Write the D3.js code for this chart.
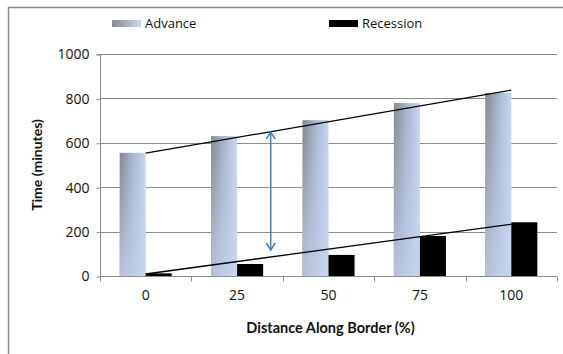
<!DOCTYPE html>
<html><head><meta charset="utf-8">
<script src="https://cdn.jsdelivr.net/npm/d3@7"></script>
<style>html,body{margin:0;padding:0;background:#fff;}svg{display:block;}</style>
</head><body>
<svg id="c" width="563" height="354"></svg>
<script>
const categories = ["0","25","50","75","100"];
const seriesNames = ["Advance","Recession"];
const advance = [555, 630, 702, 779, 825];
const recession = [12, 54, 95, 180, 242];
const yTicks = [0, 200, 400, 600, 800, 1000];
const advanceTrend = [[0, 553], [100, 837]];
const recessionTrend = [[0, 9], [100, 233]];
const arrowSpan = [[34.2, 648], [34.2, 117]];

const svg = d3.select("#c");
const W = 563, H = 354;
const m = {l:100, r:6, t:54, b:78};
const x0 = d3.scaleBand().domain(categories).range([m.l, W - m.r]).padding(0);
const bw = x0.bandwidth();
const x1 = d3.scaleBand().domain(seriesNames).range([bw*0.215, bw*0.785]).padding(0);
const y = d3.scaleLinear().domain([0, 1000]).range([H - m.b, m.t]);
const xNum = d3.scaleLinear().domain([0, 100]).range([x0("0") + bw/2, x0("100") + bw/2]);

const defs = svg.append("defs");
const g1 = defs.append("linearGradient").attr("id","advH").attr("x1",0).attr("y1",0).attr("x2",1).attr("y2",0);
g1.append("stop").attr("offset",0).attr("stop-color","#86898f");
g1.append("stop").attr("offset",0.5).attr("stop-color","#a8b5cc");
g1.append("stop").attr("offset",1).attr("stop-color","#c8d7f2");
const g2 = defs.append("linearGradient").attr("id","advV").attr("x1",0).attr("y1",0).attr("x2",0).attr("y2",1);
g2.append("stop").attr("offset",0).attr("stop-color","#c6d4ee").attr("stop-opacity",0);
g2.append("stop").attr("offset",1).attr("stop-color","#c6d4ee").attr("stop-opacity",0.75);
const g3 = defs.append("linearGradient").attr("id","legH").attr("x1",0).attr("y1",0).attr("x2",1).attr("y2",0);
g3.append("stop").attr("offset",0).attr("stop-color","#86898f");
g3.append("stop").attr("offset",1).attr("stop-color","#cad8f1");

// outer border
svg.append("rect").attr("x",8.5).attr("y",7.5).attr("width",W+10).attr("height",H+10)
  .attr("fill","none").attr("stroke","#8c8c8c").attr("stroke-width",1.5);

// gridlines
svg.append("g").selectAll("line").data(yTicks.filter(d=>d>0)).join("line")
  .attr("x1", m.l).attr("x2", W - m.r)
  .attr("y1", d=>Math.round(y(d))+0.5).attr("y2", d=>Math.round(y(d))+0.5)
  .attr("stroke","#8c8c8c").attr("stroke-width",1);

// y axis
const yAxis = d3.axisLeft(y).tickValues(yTicks).tickSize(4).tickPadding(7).tickFormat(d3.format("d"));
const ya = svg.append("g").attr("transform",`translate(${m.l+0.5},0.5)`).call(yAxis);
ya.select(".domain").attr("stroke","#8c8c8c").attr("d", `M-4,${y(1000)}H0V${y(0)+4}`);
ya.selectAll(".tick line").attr("stroke","#8c8c8c");
ya.selectAll("text").attr("font-family","'Open Sans', sans-serif").attr("font-size",14).attr("fill","#111");

// bars
const bars = svg.append("g");
categories.forEach((c,i)=>{
  const xa = x0(c) + x1("Advance");
  const h = y(0) - y(advance[i]);
  bars.append("rect").attr("x", xa).attr("y", y(advance[i])).attr("width", x1.bandwidth()).attr("height", h).attr("fill","url(#advH)");
  bars.append("rect").attr("x", xa).attr("y", y(advance[i])).attr("width", x1.bandwidth()).attr("height", h).attr("fill","url(#advV)");
  bars.append("rect").attr("x", x0(c) + x1("Recession")).attr("y", y(recession[i])).attr("width", x1.bandwidth())
    .attr("height", y(0) - y(recession[i])).attr("fill","#000");
});

// x axis
const xAxis = d3.axisBottom(x0).tickSize(0).tickPadding(14);
const xa = svg.append("g").attr("transform",`translate(0,${Math.round(y(0))+0.5})`).call(xAxis);
xa.select(".domain").attr("stroke","#8c8c8c").attr("d", `M${m.l},0H${W-m.r}`);
xa.selectAll("text").attr("font-family","'Open Sans', sans-serif").attr("font-size",14).attr("fill","#111");
const bounds = categories.map(c=>x0(c)).concat([x0("100")+bw]);
xa.append("g").selectAll("line").data(bounds).join("line")
  .attr("x1", d=>Math.round(d)+0.5).attr("x2", d=>Math.round(d)+0.5).attr("y1",0).attr("y2",5)
  .attr("stroke","#8c8c8c");

// trend lines
const line = d3.line().x(d=>xNum(d[0])).y(d=>y(d[1]));
[advanceTrend, recessionTrend].forEach(t=>{
  svg.append("path").attr("d", line(t)).attr("fill","none").attr("stroke","#000").attr("stroke-width",1.3);
});

// double arrow
const ax = xNum(arrowSpan[0][0]);
const ay1 = y(arrowSpan[0][1]), ay2 = y(arrowSpan[1][1]);
const blue = "#4a7dbc";
svg.append("line").attr("x1",ax).attr("x2",ax).attr("y1",ay1).attr("y2",ay2).attr("stroke",blue).attr("stroke-width",1.5);
svg.append("path").attr("d",`M${ax-4.5},${ay1+7}L${ax},${ay1}L${ax+4.5},${ay1+7}`).attr("fill","none").attr("stroke",blue).attr("stroke-width",1.5);
svg.append("path").attr("d",`M${ax-4.5},${ay2-7}L${ax},${ay2}L${ax+4.5},${ay2-7}`).attr("fill","none").attr("stroke",blue).attr("stroke-width",1.5);

// axis titles
svg.append("text").attr("transform",`translate(42,${(y(0)+y(1000))/2}) rotate(-90)`)
  .attr("text-anchor","middle").attr("font-family","Lato, sans-serif").attr("font-weight","bold").attr("font-size",14)
  .attr("fill","#111").text("Time (minutes)");
svg.append("text").attr("x", (m.l + W - m.r)/2 + 2).attr("y", 333)
  .attr("text-anchor","middle").attr("font-family","Lato, sans-serif").attr("font-weight","bold").attr("font-size",14.5)
  .attr("fill","#111").text("Distance Along Border (%)");

// legend
const leg = [{name:"Advance", fill:"url(#legH)", x:112},{name:"Recession", fill:"#000", x:329}];
leg.forEach(l=>{
  svg.append("rect").attr("x",l.x).attr("y",20).attr("width",29).attr("height",7).attr("fill",l.fill);
  svg.append("text").attr("x",l.x+33).attr("y",27.5).attr("font-family","'Open Sans', sans-serif").attr("font-size",13)
    .attr("fill","#111").text(l.name);
});
</script>
</body></html>
